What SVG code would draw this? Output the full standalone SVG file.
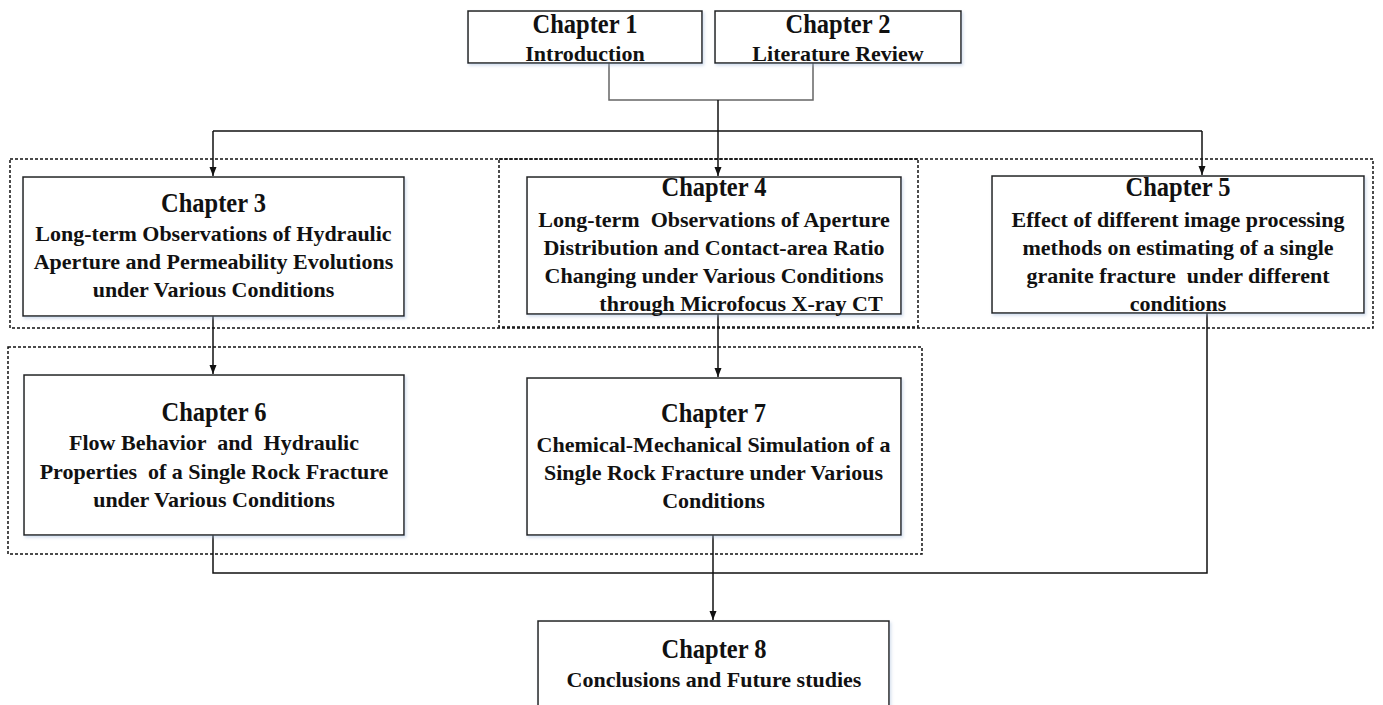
<svg xmlns="http://www.w3.org/2000/svg" width="1383" height="705" viewBox="0 0 1383 705">
<style>
  .box { fill: #ffffff; stroke: #222222; stroke-width: 1.5; filter: url(#sh); }
  .grp { fill: none; stroke: #111111; stroke-width: 1.5; stroke-dasharray: 3 2; }
  .ln { fill: none; stroke: #111111; stroke-width: 1.5; }
  .lg { fill: none; stroke: #666666; stroke-width: 1.5; }
  text { font-family: "Liberation Serif", "Times New Roman", serif; font-weight: bold; fill: #111111; text-anchor: middle; white-space: pre; }
  .t { font-size: 27px; }
  .b { font-size: 22px; }
</style>
<defs>
  <filter id="sh" x="-5%" y="-5%" width="110%" height="120%">
    <feDropShadow dx="1.5" dy="2" stdDeviation="1.5" flood-color="#9fb6d8" flood-opacity="0.45"/>
  </filter>
  <marker id="ah" markerWidth="10" markerHeight="10" refX="9" refY="5" orient="auto" markerUnits="userSpaceOnUse">
    <path d="M0,1.5 L9,5 L0,8.5 Z" fill="#111111"/>
  </marker>
</defs>

<g id="groups">
  <rect class="grp" x="10" y="159" width="1363" height="169"/>
  <rect class="grp" x="499" y="159" width="419" height="168"/>
  <rect class="grp" x="8" y="347" width="914" height="207"/>
</g>

<g id="connectors">
  <polyline class="lg" points="609,63 609,100 813,100 813,63"/>
  <line class="ln" x1="718" y1="100" x2="718" y2="131"/>
  <line class="ln" x1="213" y1="131" x2="1202" y2="131"/>
  <line class="ln" x1="213" y1="131" x2="213" y2="176" marker-end="url(#ah)"/>
  <line class="ln" x1="718" y1="131" x2="718" y2="176" marker-end="url(#ah)"/>
  <line class="ln" x1="1202" y1="131" x2="1202" y2="175" marker-end="url(#ah)"/>
  <line class="ln" x1="213" y1="316" x2="213" y2="374" marker-end="url(#ah)"/>
  <line class="ln" x1="718" y1="314" x2="718" y2="377" marker-end="url(#ah)"/>
  <polyline class="ln" points="213,535 213,573 1207,573 1207,313"/>
  <line class="ln" x1="713" y1="535" x2="713" y2="573"/>
  <line class="ln" x1="713" y1="573" x2="713" y2="620" marker-end="url(#ah)"/>
</g>

<g id="ch1">
  <rect class="box" x="468" y="11" width="234" height="52"/>
  <text class="t" x="585" y="33" textLength="105" lengthAdjust="spacingAndGlyphs">Chapter 1</text>
  <text class="b" x="585" y="61">Introduction</text>
</g>

<g id="ch2">
  <rect class="box" x="715" y="11" width="246" height="52"/>
  <text class="t" x="838" y="33" textLength="105" lengthAdjust="spacingAndGlyphs">Chapter 2</text>
  <text class="b" x="838" y="61">Literature Review</text>
</g>

<g id="ch3">
  <rect class="box" x="23" y="177" width="381" height="139"/>
  <text class="t" x="213.5" y="212" textLength="105" lengthAdjust="spacingAndGlyphs">Chapter 3</text>
  <text class="b" x="213.5" y="241">Long-term Observations of Hydraulic</text>
  <text class="b" x="213.5" y="269">Aperture and Permeability Evolutions</text>
  <text class="b" x="213.5" y="297">under Various Conditions</text>
</g>

<g id="ch4">
  <rect class="box" x="527" y="177" width="374" height="137"/>
  <text class="t" x="714" y="196" textLength="105" lengthAdjust="spacingAndGlyphs">Chapter 4</text>
  <text class="b" x="714" y="227">Long-term  Observations of Aperture</text>
  <text class="b" x="714" y="255">Distribution and Contact-area Ratio</text>
  <text class="b" x="714" y="283">Changing under Various Conditions</text>
  <text class="b" x="741" y="311">through Microfocus X-ray CT</text>
</g>

<g id="ch5">
  <rect class="box" x="992" y="176" width="372" height="137"/>
  <text class="t" x="1178" y="196" textLength="105" lengthAdjust="spacingAndGlyphs">Chapter 5</text>
  <text class="b" x="1178" y="227">Effect of different image processing</text>
  <text class="b" x="1178" y="255">methods on estimating of a single</text>
  <text class="b" x="1178" y="283">granite fracture  under different</text>
  <text class="b" x="1178" y="311">conditions</text>
</g>

<g id="ch6">
  <rect class="box" x="24" y="375" width="380" height="160"/>
  <text class="t" x="214" y="421" textLength="105" lengthAdjust="spacingAndGlyphs">Chapter 6</text>
  <text class="b" x="214" y="450">Flow Behavior  and  Hydraulic</text>
  <text class="b" x="214" y="479">Properties  of a Single Rock Fracture</text>
  <text class="b" x="214" y="507">under Various Conditions</text>
</g>

<g id="ch7">
  <rect class="box" x="527" y="378" width="374" height="157"/>
  <text class="t" x="713.5" y="422" textLength="105" lengthAdjust="spacingAndGlyphs">Chapter 7</text>
  <text class="b" x="713.5" y="452">Chemical-Mechanical Simulation of a</text>
  <text class="b" x="713.5" y="480">Single Rock Fracture under Various</text>
  <text class="b" x="713.5" y="508">Conditions</text>
</g>

<g id="ch8">
  <rect class="box" x="538" y="621" width="351" height="100"/>
  <text class="t" x="714" y="658" textLength="105" lengthAdjust="spacingAndGlyphs">Chapter 8</text>
  <text class="b" x="714" y="687">Conclusions and Future studies</text>
</g>
</svg>
